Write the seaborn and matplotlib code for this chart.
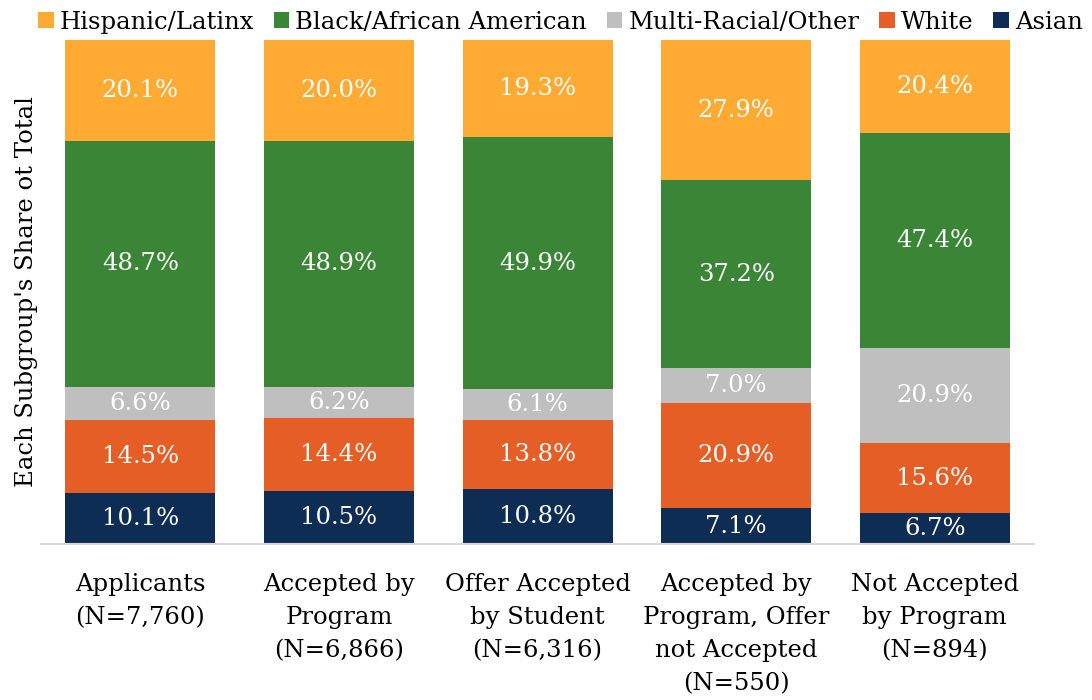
import matplotlib
matplotlib.use("Agg")
import matplotlib.pyplot as plt
import seaborn as sns
import numpy as np
import pandas as pd

categories = ["Applicants\n(N=7,760)", "Accepted by\nProgram\n(N=6,866)",
              "Offer Accepted\nby Student\n(N=6,316)",
              "Accepted by\nProgram, Offer\nnot Accepted\n(N=550)",
              "Not Accepted\nby Program\n(N=894)"]
asian = [10.1, 10.5, 10.8, 7.1, 6.7]
white = [14.5, 14.4, 13.8, 20.9, 15.6]
multi = [6.6, 6.2, 6.1, 7.0, 20.9]
black = [48.7, 48.9, 49.9, 37.2, 47.4]
hispanic = [20.1, 20.0, 19.3, 27.9, 20.4]

series_names = ["Asian", "White", "Multi-Racial/Other", "Black/African American", "Hispanic/Latinx"]
series_vals = [asian, white, multi, black, hispanic]
colors = ["#0E2D55", "#E45E26", "#BFBFBF", "#3A8636", "#FFAB33"]

sns.set_theme(style="white")
plt.rcParams['font.family'] = ['DejaVu Serif']
plt.rcParams['text.color'] = 'black'

FS = 17.5

fig = plt.figure(figsize=(10.92, 7.0), dpi=100)
ax = fig.add_axes([0.0375, 0.223, 0.9095, 0.72])

arr = np.array(series_vals)
totals = arr.sum(axis=0)
shares = arr / totals * 100.0

bottom = np.zeros(len(categories))
for name, raw, sh, col in zip(series_names, series_vals, shares, colors):
    df = pd.DataFrame({"cat": categories, "val": sh})
    sns.barplot(data=df, x="cat", y="val", color=col, bottom=bottom, width=0.755,
                ax=ax, saturation=1, label=name, linewidth=0)
    for i, (b, v, r) in enumerate(zip(bottom, sh, raw)):
        ax.text(i, b + v / 2, f"{r:.1f}%", ha="center", va="center",
                color="white", fontsize=FS)
    bottom = bottom + sh

ax.set_ylim(0, 100)
ax.set_xlim(-0.5, len(categories) - 0.5)
ax.set_yticks([])
ax.set_xlabel("")
ax.set_ylabel("Each Subgroup's Share ot Total", fontsize=FS, labelpad=2, color="black")
ax.tick_params(axis="x", length=0, pad=21, labelsize=FS, labelcolor="black")
for t in ax.get_xticklabels():
    t.set_linespacing(1.55)
for s in ["top", "right", "left"]:
    ax.spines[s].set_visible(False)
ax.spines["bottom"].set_color("#D9D9D9")
ax.spines["bottom"].set_linewidth(1.5)

h, l = ax.get_legend_handles_labels()
if ax.get_legend():
    ax.get_legend().remove()
order = ["Hispanic/Latinx", "Black/African American", "Multi-Racial/Other", "White", "Asian"]
hl = dict(zip(l, h))
fig.legend([hl[o] for o in order], order, loc="upper center", bbox_to_anchor=(0.513, 1.016),
           ncol=5, frameon=False, fontsize=FS, handlelength=0.65, handleheight=0.65,
           columnspacing=0.8, handletextpad=0.25, labelcolor="black")

fig.savefig("out.png", dpi=100)
